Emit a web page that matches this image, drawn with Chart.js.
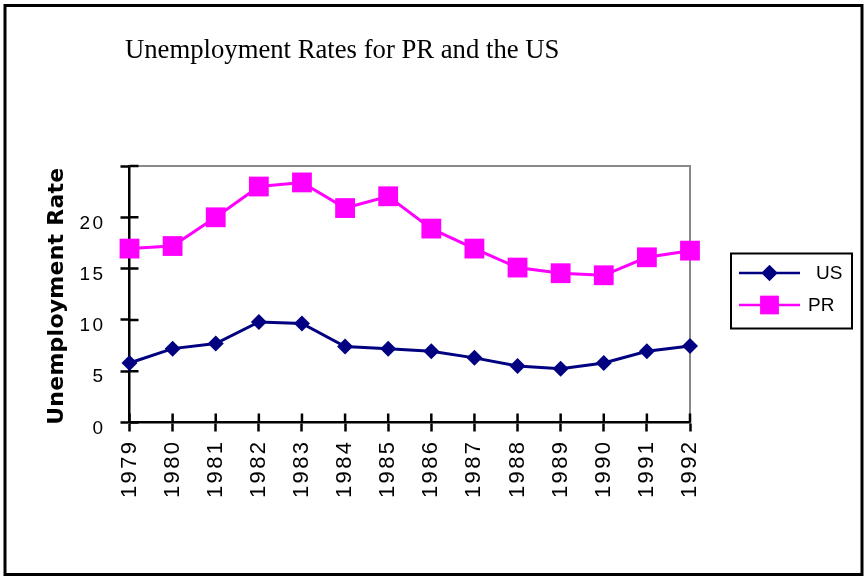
<!DOCTYPE html>
<html>
<head>
<meta charset="utf-8">
<script src="https://cdn.jsdelivr.net/npm/chart.js@4/dist/chart.umd.min.js"></script>
<style>
  html, body { margin: 0; padding: 0; background: #fff; }
  #wrap { position: relative; width: 864px; height: 576px; }
</style>
</head>
<body>
<div id="wrap"><canvas id="chart" width="864" height="576"></canvas></div>
<script>
const years = ["1979", "1980", "1981", "1982", "1983", "1984", "1985",
  "1986", "1987", "1988", "1989", "1990", "1991", "1992"];
const usRates = [5.8, 7.2, 7.7, 9.8, 9.65, 7.4, 7.2, 6.95, 6.3, 5.5, 5.25, 5.8, 6.95, 7.45];
const prRates = [16.95, 17.2, 20.0, 23.0, 23.4, 20.9, 22.05, 18.9, 16.95, 15.1, 14.55, 14.35, 16.1, 16.75];
const yTicks = [0, 5, 10, 15, 20, 25];

const titleText = "Unemployment Rates for PR and the US";
const yTitleText = "Unemployment Rate";
const navy = "#000080";
const magenta = "#ff00ff";

// plot box edges (chart area)
const area = { left: 129.5, top: 166, right: 690, bottom: 422.5 };

// frame, title, y title, gray box, crossing ticks, legend
const decorations = {
  id: "decorations",
  beforeDraw(chart) {
    chart.ctx.letterSpacing = "2.4px";
  },
  beforeDatasetsDraw(chart) {
    const ctx = chart.ctx;
    const ca = chart.chartArea;
    ctx.save();
    ctx.letterSpacing = "0px";
    // gray top/right border
    ctx.strokeStyle = "#888888";
    ctx.lineWidth = 2;
    ctx.beginPath();
    ctx.moveTo(ca.left, ca.top);
    ctx.lineTo(ca.right, ca.top);
    ctx.lineTo(ca.right, ca.bottom);
    ctx.stroke();
    // inward half of the ticks
    ctx.strokeStyle = "#000";
    ctx.lineWidth = 2.5;
    const xs = chart.scales.x, ys = chart.scales.y;
    ctx.beginPath();
    xs.ticks.forEach((t, i) => {
      const px = xs.getPixelForTick(i);
      ctx.moveTo(px, ca.bottom);
      ctx.lineTo(px, ca.bottom - 9);
    });
    ys.ticks.forEach((t, i) => {
      const py = ys.getPixelForTick(i);
      ctx.moveTo(ca.left, py);
      ctx.lineTo(ca.left + 9, py);
    });
    ctx.stroke();
    ctx.restore();
  },
  afterDraw(chart) {
    const ctx = chart.ctx;
    const ca = chart.chartArea;
    ctx.save();
    ctx.letterSpacing = "0px";
    // outer frame
    ctx.strokeStyle = "#000";
    ctx.lineWidth = 3;
    ctx.strokeRect(5, 5.5, 857, 569);

    // title
    ctx.fillStyle = "#000";
    ctx.font = "26.7px 'Liberation Serif', 'Times New Roman', serif";
    ctx.textAlign = "left";
    ctx.textBaseline = "alphabetic";
    ctx.fillText(titleText, 125, 58);

    // y axis title, stretched to the reference length
    ctx.font = "bold 22px 'DejaVu Sans', sans-serif";
    const w = ctx.measureText(yTitleText).width;
    const spacing = Math.max(0, (257 - w) / (yTitleText.length - 1));
    ctx.letterSpacing = spacing.toFixed(2) + "px";
    ctx.translate(57, (ca.top + ca.bottom) / 2 + 2);
    ctx.rotate(-Math.PI / 2);
    ctx.textAlign = "center";
    ctx.textBaseline = "middle";
    ctx.fillText(yTitleText, spacing / 2, 0);
    ctx.restore();

    // legend
    ctx.save();
    ctx.letterSpacing = "0px";
    ctx.strokeStyle = "#000";
    ctx.lineWidth = 2;
    ctx.strokeRect(731, 253.5, 121, 75);
    const rows = [
      { label: "US", color: navy, y: 273, tx: 816, style: "rectRot", r: 8 },
      { label: "PR", color: magenta, y: 305, tx: 808, style: "rect", r: 13 }
    ];
    ctx.font = "19px 'Liberation Sans', Arial, sans-serif";
    ctx.textBaseline = "middle";
    ctx.textAlign = "left";
    rows.forEach((row) => {
      ctx.strokeStyle = row.color;
      ctx.lineWidth = 2.5;
      ctx.beginPath();
      ctx.moveTo(739, row.y);
      ctx.lineTo(800, row.y);
      ctx.stroke();
      ctx.fillStyle = row.color;
      Chart.helpers.drawPoint(ctx, {
        pointStyle: row.style, radius: row.r, rotation: 0, borderWidth: 0
      }, 769.5, row.y);
      ctx.fill();
      ctx.fillStyle = "#000";
      ctx.fillText(row.label, row.tx, row.y + 1);
    });
    ctx.restore();
  }
};

new Chart(document.getElementById("chart"), {
  type: "line",
  data: {
    labels: years,
    datasets: [
      {
        label: "US",
        data: usRates,
        borderColor: navy,
        backgroundColor: navy,
        borderWidth: 3,
        pointStyle: "rectRot",
        pointRadius: 8,
        pointHoverRadius: 8,
        pointBorderWidth: 0,
        tension: 0,
        clip: false
      },
      {
        label: "PR",
        data: prRates,
        borderColor: magenta,
        backgroundColor: magenta,
        borderWidth: 3,
        pointStyle: "rect",
        pointRadius: 14,
        pointHoverRadius: 14,
        pointBorderWidth: 0,
        tension: 0,
        clip: false
      }
    ]
  },
  options: {
    responsive: false,
    animation: false,
    events: [],
    layout: {
      padding: { left: 0, top: area.top, right: 864 - area.right, bottom: 0 }
    },
    plugins: {
      legend: { display: false },
      title: { display: false },
      tooltip: { enabled: false }
    },
    scales: {
      x: {
        offset: false,
        afterFit(scale) { scale.height = 576 - area.bottom; },
        grid: {
          drawOnChartArea: false,
          drawTicks: true,
          tickLength: 9,
          tickWidth: 2.5,
          tickColor: "#000"
        },
        border: { display: true, color: "#000", width: 2.5 },
        ticks: {
          autoSkip: false,
          minRotation: 90,
          maxRotation: 90,
          padding: 8,
          color: "#000",
          font: { family: "'Liberation Sans', Arial, sans-serif", size: 22 }
        }
      },
      y: {
        min: yTicks[0],
        max: yTicks[yTicks.length - 1],
        afterFit(scale) { scale.width = area.left; },
        afterBuildTicks(scale) {
          scale.ticks = yTicks.map((v) => ({ value: v }));
        },
        grid: {
          drawOnChartArea: false,
          drawTicks: true,
          tickLength: 9,
          tickWidth: 2.5,
          tickColor: "#000"
        },
        border: { display: true, color: "#000", width: 2.5 },
        ticks: {
          padding: 15,
          labelOffset: 6,
          color: "#000",
          font: { family: "'Liberation Sans', Arial, sans-serif", size: 19 },
          callback: (v) => (v === 25 ? "" : String(v))
        }
      }
    }
  },
  plugins: [decorations]
});
</script>
</body>
</html>
